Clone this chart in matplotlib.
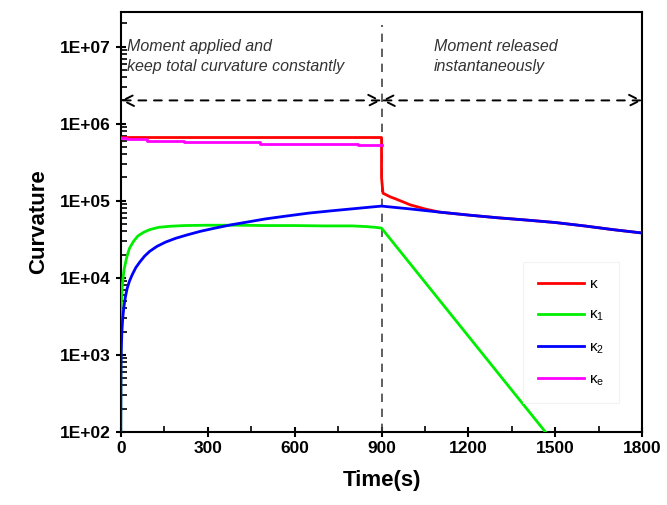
import numpy as np
import matplotlib
matplotlib.use('Agg')
import matplotlib.pyplot as plt

plt.rcParams['font.family'] = ['Liberation Sans', 'DejaVu Sans']
plt.rcParams['mathtext.fontset'] = 'custom'
plt.rcParams['mathtext.rm'] = 'Liberation Sans'
plt.rcParams['mathtext.it'] = 'Liberation Sans'

# curvature data
t_k = [0, 900, 900, 905, 930, 950, 1000, 1050, 1100, 1200, 1300, 1400, 1500, 1600, 1700, 1800]
k = [6.6e5, 6.6e5, 2.0e5, 1.25e5, 1.12e5, 1.05e5, 8.8e4, 7.8e4, 7.1e4, 6.5e4, 6.0e4, 5.6e4, 5.2e4, 4.7e4, 4.2e4, 3.8e4]

t_k1 = [0, 0.5, 1, 2, 4, 8, 12, 20, 30, 45, 60, 80, 100, 130, 170, 220, 300, 400, 500, 600, 700, 800, 850, 880, 900, 1465, 1520]
k1 = [1e2, 1.2e3, 2.5e3, 4.5e3, 7e3, 1e4, 1.3e4, 1.8e4, 2.4e4, 3.0e4, 3.5e4, 3.9e4, 4.2e4, 4.5e4, 4.65e4, 4.75e4, 4.8e4, 4.8e4, 4.75e4, 4.75e4, 4.7e4, 4.7e4, 4.6e4, 4.5e4, 4.4e4, 1e2, 65]

t_k2 = [0, 1, 2, 4, 7, 11, 16, 22, 30, 40, 52, 66, 82, 100, 125, 155, 190, 230, 275, 325, 380, 440, 500, 570, 650, 730, 810, 870, 900,
        1000, 1100, 1200, 1300, 1400, 1500, 1600, 1700, 1800]
k2 = [1e2, 7e2, 1.2e3, 2.0e3, 3.0e3, 4.2e3, 5.6e3, 7.2e3, 9e3, 1.1e4, 1.35e4, 1.6e4, 1.9e4, 2.2e4, 2.55e4, 2.9e4, 3.25e4, 3.6e4, 4.0e4, 4.4e4, 4.85e4, 5.3e4, 5.8e4, 6.3e4, 6.9e4, 7.4e4, 7.9e4, 8.3e4, 8.5e4,
      7.8e4, 7.1e4, 6.5e4, 6.0e4, 5.6e4, 5.2e4, 4.7e4, 4.2e4, 3.8e4]

t_ke = [0, 20, 90, 220, 480, 820, 900]
ke = [6.5e5, 6.3e5, 6.0e5, 5.8e5, 5.5e5, 5.2e5, 5.2e5]

xticks = [0, 300, 600, 900, 1200, 1500, 1800]
yticks = [1e2, 1e3, 1e4, 1e5, 1e6, 1e7]
ytick_labels = ['1E+02', '1E+03', '1E+04', '1E+05', '1E+06', '1E+07']

fig = plt.figure(figsize=(6.67, 5.05), dpi=100)
ax = fig.add_axes([0.181, 0.145, 0.782, 0.831])

ax.plot(t_k, k, color='#ff0000', lw=2, label=r'$\kappa$', zorder=3)
ax.plot(t_k1, k1, color='#00ee00', lw=2, label=r'$\kappa_1$', zorder=3)
ax.plot(t_k2, k2, color='#0000ff', lw=2, label=r'$\kappa_2$', zorder=4)
ax.plot(t_ke, ke, color='#ff00ff', lw=2, drawstyle='steps-post', label=r'$\kappa_e$', zorder=3)

ax.set_yscale('log')
ax.set_xlim(0, 1800)
ax.set_ylim(1e2, 2.8e7)
ax.set_xticks(xticks)
ax.set_xticklabels([str(x) for x in xticks], fontweight='bold', fontsize=12.5)
ax.set_xticks(np.arange(150, 1800, 300), minor=True)
ax.set_yticks(yticks)
ax.set_yticklabels(ytick_labels, fontweight='bold', fontsize=12.5)
ax.tick_params(which='major', direction='inout', length=7, width=1.5)
ax.tick_params(which='minor', direction='in', length=4, width=1.2)
for s in ax.spines.values():
    s.set_linewidth(1.5)

ax.set_xlabel('Time(s)', fontsize=16, fontweight='bold', labelpad=10)
ax.set_ylabel('Curvature', fontsize=16, fontweight='bold', labelpad=8)

# stage divider and arrows
ax.axvline(900, ymax=0.969, color='#444444', lw=1.2, ls=(0, (5, 4)), zorder=2)
arrow_y = 2e6
for x0, x1 in [(0, 900), (900, 1800)]:
    ax.annotate('', xy=(x1, arrow_y), xytext=(x0, arrow_y),
                arrowprops=dict(arrowstyle='<->', color='black', lw=1.4, ls=(0, (4, 4)),
                                mutation_scale=20, shrinkA=0, shrinkB=0))

ax.text(22, 7.4e6, 'Moment applied and\nkeep total curvature constantly', fontsize=11.5,
        style='italic', color='#333333', va='center', ha='left', linespacing=1.45)
ax.text(1080, 7.4e6, 'Moment released\ninstantaneously', fontsize=11.5,
        style='italic', color='#333333', va='center', ha='left', linespacing=1.45)

leg = ax.legend(loc='lower right', bbox_to_anchor=(0.97, 0.05), fontsize=11,
                handlelength=3, labelspacing=1.1, frameon=True, fancybox=False,
                borderpad=1.0, handletextpad=0.3)
leg.get_frame().set_edgecolor('#f0f0f0')
leg.get_frame().set_linewidth(0.8)

fig.savefig('out.png', dpi=100)
